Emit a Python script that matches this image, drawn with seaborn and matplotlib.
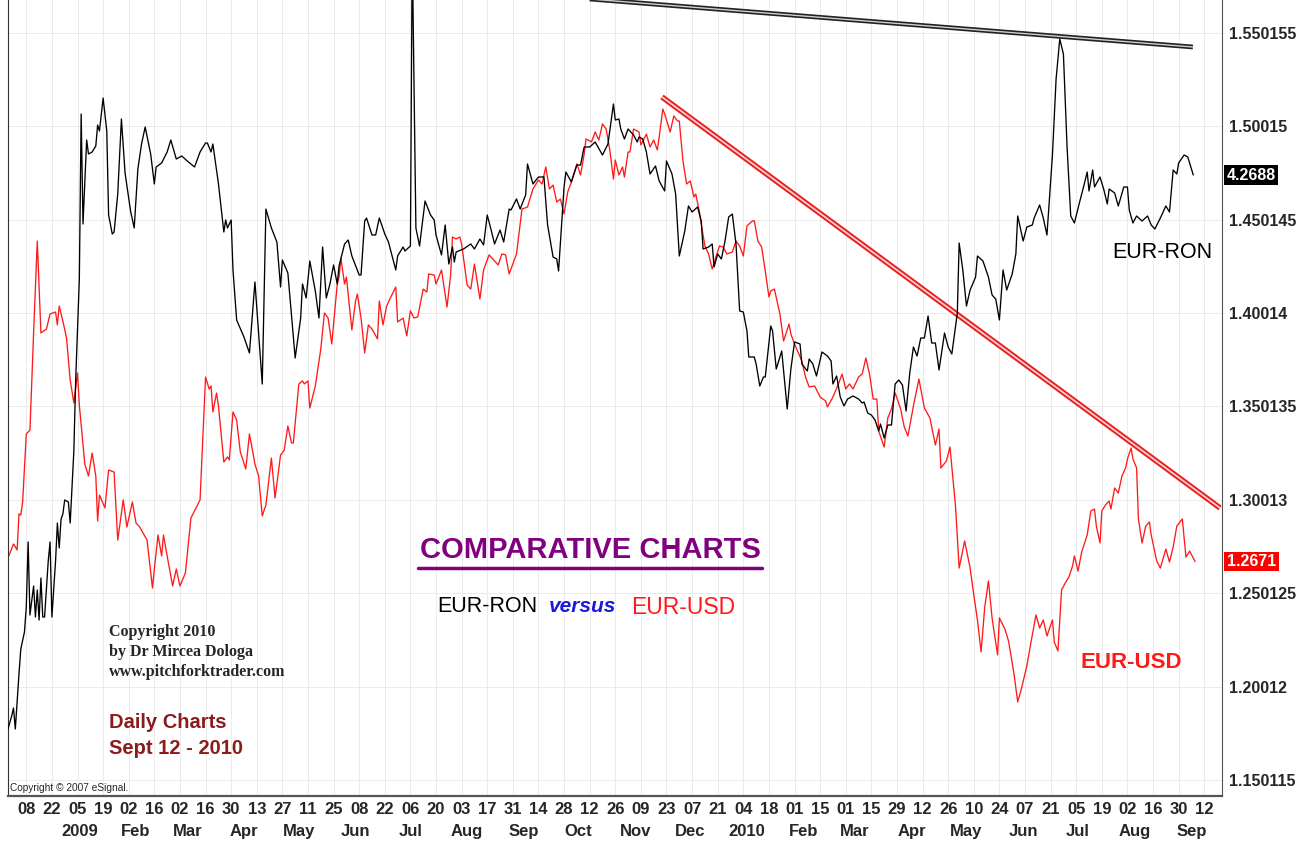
"""
EUR-RON versus EUR-USD, daily charts up to Sept 12 2010.
Recreated from an eSignal screenshot: both series overlaid on one panel,
EUR-USD on the price scale (right), EUR-RON on its own hidden scale.
"""

import matplotlib

matplotlib.use("Agg")  # no display
import matplotlib.dates as mdates  # noqa: E402
import matplotlib.pyplot as plt  # noqa: E402
import matplotlib.transforms as mtransforms  # noqa: E402
import pandas as pd  # noqa: E402
import seaborn as sns  # noqa: E402
from matplotlib.lines import Line2D  # noqa: E402

# --- data -----------------------------------------------------------------
BASE_DATE = pd.Timestamp("2008-11-28")  # day 0 of the series below

# EUR-USD close (days after BASE_DATE, value)
usd_day = [
    0, 3, 5, 6, 7, 8, 10, 12, 14, 16,
    18, 21, 23, 26, 27, 28, 30, 32, 34, 36,
    38, 39, 42, 44, 46, 48, 49, 50, 53, 55,
    58, 60, 63, 65, 68, 70, 72, 76, 79, 80,
    82, 84, 85, 87, 90, 92, 94, 97, 100, 105,
    108, 110, 111, 112, 114, 115, 118, 120, 121, 123,
    125, 127, 130, 132, 135, 137, 139, 141, 144, 146,
    149, 151, 153, 155, 156, 159, 161, 162, 164, 165,
    168, 171, 173, 175, 177, 180, 181, 182, 184, 185,
    188, 190, 191, 193, 195, 197, 199, 202, 203, 205,
    207, 209, 212, 213, 216, 218, 220, 222, 224, 227,
    229, 230, 233, 234, 237, 240, 242, 243, 245, 247,
    248, 251, 253, 255, 258, 260, 263, 265, 268, 270,
    272, 274, 276, 278, 281, 284, 287, 290, 292, 294,
    296, 298, 300, 302, 304, 306, 308, 311, 313, 315,
    316, 319, 321, 323, 325, 327, 329, 331, 332, 334,
    336, 337, 339, 340, 342, 345, 346, 349, 351, 353,
    355, 356, 358, 359, 362, 364, 366, 367, 369, 371,
    373, 375, 376, 378, 379, 381, 383, 385, 387, 389,
    391, 393, 396, 398, 400, 402, 404, 407, 408, 410,
    412, 414, 416, 417, 419, 422, 424, 427, 428, 430,
    434, 436, 438, 441, 444, 447, 448, 451, 454, 456,
    458, 460, 462, 465, 467, 469, 471, 473, 475, 476,
    479, 481, 483, 485, 488, 490, 492, 495, 498, 501,
    504, 507, 509, 510, 513, 515, 518, 520, 523, 526,
    528, 530, 532, 534, 536, 538, 541, 542, 545, 547,
    550, 552, 554, 557, 559, 562, 564, 566, 568, 571,
    572, 574, 576, 578, 580, 582, 583, 585, 587, 590,
    592, 594, 595, 597, 598, 600, 602, 603, 605, 607,
    609, 611, 612, 614, 615, 617, 618, 620, 622, 624,
    625, 628, 630, 633, 635, 637, 639, 642, 644, 646,
    649,
]
usd_val = [
    1.2690, 1.2765, 1.2733, 1.2926, 1.2920, 1.2990, 1.3354, 1.3375, 1.3895, 1.4387,
    1.3895, 1.3916, 1.3997, 1.4007, 1.3938, 1.4039, 1.3959, 1.3868, 1.3643, 1.3520,
    1.3681, 1.3509, 1.3193, 1.3129, 1.3252, 1.3129, 1.2888, 1.3027, 1.2958, 1.3161,
    1.3150, 1.2786, 1.3001, 1.2856, 1.2990, 1.2877, 1.2856, 1.2786, 1.2529, 1.2631,
    1.2813, 1.2701, 1.2813, 1.2701, 1.2540, 1.2631, 1.2540, 1.2610, 1.2904, 1.3001,
    1.3659, 1.3595, 1.3611, 1.3472, 1.3573, 1.3509, 1.3204, 1.3231, 1.3215, 1.3472,
    1.3429, 1.3258, 1.3167, 1.3354, 1.3193, 1.3129, 1.2915, 1.2974, 1.3225, 1.3011,
    1.3241, 1.3268, 1.3397, 1.3306, 1.3306, 1.3622, 1.3638, 1.3622, 1.3638, 1.3493,
    1.3611, 1.3809, 1.4002, 1.3975, 1.3836, 1.4157, 1.4195, 1.4296, 1.4157, 1.4195,
    1.3911, 1.4066, 1.4104, 1.3975, 1.3788, 1.3938, 1.3916, 1.3863, 1.4066, 1.3938,
    1.4039, 1.4082, 1.4141, 1.3954, 1.3975, 1.3879, 1.4013, 1.3975, 1.3981, 1.4130,
    1.4114, 1.4211, 1.4205, 1.4157, 1.4232, 1.4034, 1.4205, 1.4409, 1.4398, 1.4409,
    1.4371, 1.4152, 1.4130, 1.4264, 1.4077, 1.4232, 1.4313, 1.4291, 1.4259, 1.4318,
    1.4313, 1.4211, 1.4264, 1.4318, 1.4559, 1.4569, 1.4666, 1.4714, 1.4693, 1.4784,
    1.4666, 1.4687, 1.4596, 1.4612, 1.4532, 1.4650, 1.4703, 1.4800, 1.4741, 1.4853,
    1.4934, 1.4918, 1.4971, 1.4928, 1.5014, 1.4987, 1.4875, 1.4719, 1.4821, 1.4741,
    1.4784, 1.4730, 1.4864, 1.4864, 1.4987, 1.4971, 1.4902, 1.4960, 1.4891, 1.4928,
    1.4875, 1.4944, 1.5094, 1.5068, 1.4971, 1.5057, 1.5030, 1.5030, 1.4816, 1.4693,
    1.4709, 1.4623, 1.4639, 1.4543, 1.4478, 1.4361, 1.4318, 1.4237, 1.4302, 1.4361,
    1.4355, 1.4318, 1.4329, 1.4387, 1.4361, 1.4307, 1.4468, 1.4495, 1.4495, 1.4387,
    1.4355, 1.4227, 1.4088, 1.4120, 1.4130, 1.3997, 1.3852, 1.3943, 1.3889, 1.3836,
    1.3745, 1.3659, 1.3606, 1.3611, 1.3552, 1.3531, 1.3499, 1.3552, 1.3622, 1.3675,
    1.3595, 1.3622, 1.3595, 1.3659, 1.3675, 1.3761, 1.3675, 1.3541, 1.3541, 1.3370,
    1.3284, 1.3440, 1.3488, 1.3574, 1.3488, 1.3391, 1.3343, 1.3504, 1.3648, 1.3493,
    1.3440, 1.3295, 1.3381, 1.3172, 1.3209, 1.3284, 1.2968, 1.2636, 1.2781, 1.2636,
    1.2492, 1.2358, 1.2187, 1.2428, 1.2567, 1.2369, 1.2171, 1.2369, 1.2310, 1.2245,
    1.2069, 1.1919, 1.1988, 1.2112, 1.2224, 1.2385, 1.2315, 1.2358, 1.2272, 1.2358,
    1.2240, 1.2192, 1.2519, 1.2556, 1.2588, 1.2647, 1.2701, 1.2620, 1.2722, 1.2813,
    1.2942, 1.2952, 1.2861, 1.2770, 1.2942, 1.2974, 1.2995, 1.2952, 1.3065, 1.3038,
    1.3129, 1.3172, 1.3220, 1.3279, 1.3220, 1.3172, 1.2899, 1.2770, 1.2861, 1.2883,
    1.2813, 1.2674, 1.2636, 1.2738, 1.2668, 1.2749, 1.2861, 1.2899, 1.2695, 1.2727,
    1.2671,
]

# EUR-RON close (days after BASE_DATE, value); day 221 is the bad tick spike
ron_day = [
    0, 2, 3, 4, 6, 7, 9, 10, 11, 12,
    14, 15, 16, 17, 18, 19, 20, 22, 23, 24,
    26, 27, 28, 29, 30, 31, 33, 34, 36, 37,
    39, 40, 41, 43, 44, 46, 48, 49, 50, 52,
    54, 55, 57, 58, 60, 62, 64, 67, 69, 71,
    73, 75, 78, 80, 81, 84, 87, 89, 92, 95,
    98, 102, 105, 108, 109, 111, 112, 115, 118, 119,
    120, 122, 123, 125, 129, 132, 135, 139, 141, 144,
    147, 149, 150, 153, 157, 160, 161, 163, 165, 168,
    170, 172, 174, 176, 178, 180, 181, 184, 186, 188,
    192, 193, 195, 196, 199, 201, 203, 206, 208, 212,
    213, 216, 217, 220, 221, 223, 225, 228, 231, 233,
    234, 237, 239, 241, 243, 244, 245, 249, 253, 255,
    258, 260, 262, 264, 266, 269, 271, 274, 275, 278,
    280, 283, 284, 287, 290, 293, 295, 298, 300, 301,
    304, 305, 308, 311, 313, 315, 318, 321, 325, 328,
    331, 332, 334, 335, 337, 339, 342, 344, 345, 347,
    349, 351, 354, 356, 359, 360, 363, 365, 367, 370,
    372, 374, 377, 379, 380, 383, 385, 386, 388, 390,
    392, 394, 396, 398, 400, 402, 404, 405, 408, 409,
    411, 413, 414, 417, 418, 420, 423, 426, 428, 430,
    433, 434, 437, 438, 440, 442, 445, 448, 450, 451,
    453, 455, 457, 459, 462, 465, 467, 468, 470, 472,
    474, 476, 477, 479, 481, 483, 485, 487, 489, 491,
    493, 495, 497, 499, 501, 503, 505, 507, 509, 512,
    514, 516, 519, 520, 522, 524, 526, 529, 530, 533,
    536, 538, 540, 542, 544, 546, 549, 551, 552, 555,
    557, 560, 561, 564, 566, 568, 571, 573, 575, 577,
    579, 581, 583, 586, 588, 590, 591, 593, 594, 597,
    599, 601, 602, 605, 607, 610, 612, 613, 615, 617,
    620, 623, 625, 627, 630, 633, 635, 637, 639, 640,
    643, 645, 648,
]
ron_val = [
    3.8256, 3.8360, 3.8424, 3.8256, 3.8696, 3.8896, 3.9032, 3.9232, 3.9752, 3.9168,
    3.9400, 3.9152, 3.9368, 3.9128, 3.9464, 3.9152, 3.9152, 3.9600, 3.9752, 3.9152,
    3.9600, 3.9904, 3.9704, 3.9936, 3.9976, 4.0088, 4.0072, 3.9904, 4.0480, 4.1048,
    4.1856, 4.3176, 4.2296, 4.2968, 4.2856, 4.2872, 4.2920, 4.3088, 4.3040, 4.3304,
    4.3040, 4.2368, 4.2216, 4.2232, 4.2536, 4.3136, 4.2704, 4.2400, 4.2264, 4.2736,
    4.2936, 4.3072, 4.2856, 4.2616, 4.2752, 4.2784, 4.2872, 4.2968, 4.2816, 4.2840,
    4.2800, 4.2752, 4.2872, 4.2944, 4.2944, 4.2872, 4.2936, 4.2624, 4.2232, 4.2328,
    4.2264, 4.2328, 4.1928, 4.1528, 4.1392, 4.1264, 4.1832, 4.1016, 4.2416, 4.2264,
    4.2152, 4.1792, 4.2008, 4.1904, 4.1224, 4.1544, 4.1816, 4.1704, 4.2000, 4.1760,
    4.1544, 4.2112, 4.1704, 4.1816, 4.1968, 4.1816, 4.1960, 4.2136, 4.2168, 4.2040,
    4.1888, 4.1888, 4.2320, 4.2344, 4.2208, 4.2208, 4.2344, 4.2216, 4.2152, 4.1928,
    4.2040, 4.2112, 4.2080, 4.2120, 4.4500, 4.2264, 4.2120, 4.2480, 4.2368, 4.2328,
    4.2208, 4.2048, 4.2288, 4.1976, 4.2112, 4.1992, 4.2072, 4.2096, 4.2136, 4.2096,
    4.2176, 4.2128, 4.2368, 4.2256, 4.2136, 4.2248, 4.2152, 4.2416, 4.2408, 4.2496,
    4.2416, 4.2528, 4.2776, 4.2616, 4.2672, 4.2672, 4.2288, 4.2032, 4.2016, 4.1920,
    4.2592, 4.2712, 4.2632, 4.2768, 4.2768, 4.2912, 4.2912, 4.2952, 4.2848, 4.2936,
    4.3256, 4.3128, 4.3136, 4.3056, 4.2976, 4.3056, 4.3008, 4.2952, 4.2992, 4.2976,
    4.2872, 4.2696, 4.2760, 4.2640, 4.2560, 4.2800, 4.2696, 4.2536, 4.2040, 4.2240,
    4.2440, 4.2392, 4.2432, 4.2320, 4.2096, 4.2112, 4.2136, 4.1952, 4.2056, 4.2016,
    4.2160, 4.2352, 4.2376, 4.2136, 4.1600, 4.1592, 4.1440, 4.1232, 4.1232, 4.1176,
    4.1000, 4.1072, 4.1072, 4.1480, 4.1440, 4.1136, 4.1280, 4.0816, 4.1136, 4.1352,
    4.1336, 4.1176, 4.1120, 4.1216, 4.1176, 4.1080, 4.1272, 4.1240, 4.1200, 4.1016,
    4.1080, 4.0912, 4.0840, 4.0896, 4.0920, 4.0896, 4.0864, 4.0872, 4.0784, 4.0768,
    4.0728, 4.0640, 4.0696, 4.0584, 4.0688, 4.0688, 4.1016, 4.1048, 4.1008, 4.0800,
    4.1104, 4.1312, 4.1240, 4.1384, 4.1384, 4.1560, 4.1344, 4.1344, 4.1128, 4.1424,
    4.1312, 4.1256, 4.1584, 4.2144, 4.1928, 4.1640, 4.1768, 4.1872, 4.2040, 4.2000,
    4.1872, 4.1728, 4.1696, 4.1528, 4.1928, 4.1768, 4.1896, 4.2056, 4.2360, 4.2160,
    4.2272, 4.2288, 4.2344, 4.2448, 4.2344, 4.2208, 4.2848, 4.3456, 4.3776, 4.3656,
    4.2912, 4.2360, 4.2304, 4.2480, 4.2592, 4.2712, 4.2560, 4.2728, 4.2592, 4.2672,
    4.2576, 4.2456, 4.2576, 4.2544, 4.2440, 4.2592, 4.2592, 4.2408, 4.2304, 4.2360,
    4.2320, 4.2360, 4.2288, 4.2256, 4.2344, 4.2440, 4.2392, 4.2728, 4.2696, 4.2784,
    4.2848, 4.2832, 4.2688,
]

# hand drawn trend lines (two end points each)
usd_trend_day = [357.5, 662.6]
usd_trend_val = [1.5159, 1.2958]
ron_trend_day = [318.0, 647.8]
ron_trend_val = [4.4096, 4.3712]

# axis labelling as printed by eSignal
price_ticks = [1.150115, 1.20012, 1.250125, 1.30013, 1.350135,
               1.40014, 1.450145, 1.50015, 1.550155]
day_tick_labels = ["08", "22", "05", "19", "02", "16", "02", "16", "30", "13",
                   "27", "11", "25", "08", "22", "06", "20", "03", "17", "31",
                   "14", "28", "12", "26", "09", "23", "07", "21", "04", "18",
                   "01", "15", "01", "15", "29", "12", "26", "10", "24", "07",
                   "21", "05", "19", "02", "16", "30", "12"]
month_labels = ["2009", "Feb", "Mar", "Apr", "May", "Jun", "Jul", "Aug", "Sep",
                "Oct", "Nov", "Dec", "2010", "Feb", "Mar", "Apr", "May", "Jun",
                "Jul", "Aug", "Sep"]

USD_RED = "#ff1a1a"
PURPLE = "#800080"
DARK_RED = "#8b1c1c"


def main():
    sns.set_style("white")
    plt.rcParams["font.family"] = ["Liberation Sans", "DejaVu Sans"]

    usd = pd.DataFrame({"date": BASE_DATE + pd.to_timedelta(usd_day, unit="D"),
                        "EUR-USD": usd_val})
    ron = pd.DataFrame({"date": BASE_DATE + pd.to_timedelta(ron_day, unit="D"),
                        "EUR-RON": ron_val})

    W, H = 1313, 841
    fig = plt.figure(figsize=(W / 100, H / 100), dpi=100)
    fig.patch.set_facecolor("white")
    ax = fig.add_axes([8 / W, 1 - 796 / H, 1214 / W, 796 / H])
    ax2 = ax.twinx()

    sns.lineplot(data=usd, x="date", y="EUR-USD", ax=ax, color=USD_RED,
                 lw=0.95, estimator=None, sort=False)
    sns.lineplot(data=ron, x="date", y="EUR-RON", ax=ax2, color="black",
                 lw=0.95, estimator=None, sort=False)

    # trend lines: drawn as double lines like in eSignal
    utd = BASE_DATE + pd.to_timedelta(usd_trend_day, unit="D")
    ax.plot(utd, usd_trend_val, color="#e82020", lw=4.0, solid_capstyle="butt")
    ax.plot(utd, usd_trend_val, color="#ffd6d6", lw=1.2, solid_capstyle="butt")
    rtd = BASE_DATE + pd.to_timedelta(ron_trend_day, unit="D")
    ax2.plot(rtd, ron_trend_val, color="#222222", lw=3.4, solid_capstyle="butt")
    ax2.plot(rtd, ron_trend_val, color="#cfcfcf", lw=1.0, solid_capstyle="butt")

    ax.set_xlim(BASE_DATE, BASE_DATE + pd.Timedelta(days=663.7))
    ax.set_ylim(1.14154, 1.5678)
    ax2.set_ylim(3.7720, 4.4088)

    # price scale on the right
    ax.yaxis.tick_right()
    ax.set_yticks(price_ticks)
    ax.set_yticklabels([str(t) for t in price_ticks], fontsize=11.5,
                       fontweight="bold")
    ax2.set_yticks([])
    for a in (ax, ax2):
        a.set_xlabel("")
        a.set_ylabel("")

    tick_dates = pd.date_range("2008-12-08", periods=len(day_tick_labels),
                               freq="14D")
    ax.set_xticks(tick_dates)
    ax.set_xticklabels(day_tick_labels, fontsize=12, fontweight="bold")
    ax.tick_params(axis="x", length=0, pad=4)
    ax.tick_params(axis="y", length=0, pad=5)

    month_dates = pd.date_range("2009-01-01", periods=len(month_labels), freq="MS")
    for d, lab in zip(month_dates, month_labels):
        ax.text(mdates.date2num(d + pd.Timedelta(days=5)), -0.044, lab,
                transform=ax.get_xaxis_transform(), ha="center", va="center",
                fontsize=12, fontweight="bold")

    ax.grid(True, color="#ebebeb", lw=0.7)
    ax.set_axisbelow(True)
    for s in ax2.spines.values():
        s.set_visible(False)
    ax.spines["top"].set_visible(False)
    ax.spines["left"].set_color("#333333")
    ax.spines["right"].set_color("#555555")
    ax.spines["bottom"].set_color("#555555")
    ax.spines["bottom"].set_linewidth(1.6)

    # last price boxes
    tr_usd = mtransforms.blended_transform_factory(ax.transAxes, ax.transData)
    ax.text(1.004, usd_val[-1], f"{usd_val[-1]:.4f}", transform=tr_usd,
            color="white", fontsize=11.5, fontweight="bold", ha="left",
            va="center", clip_on=False,
            bbox=dict(boxstyle="square,pad=0.15", fc="#ff0000", ec="none"))
    tr_ron = mtransforms.blended_transform_factory(ax2.transAxes, ax2.transData)
    ax2.text(1.004, ron_val[-1], f"{ron_val[-1]:.4f}", transform=tr_ron,
             color="white", fontsize=11.5, fontweight="bold", ha="left",
             va="center", clip_on=False,
             bbox=dict(boxstyle="square,pad=0.15", fc="black", ec="none"))

    # annotations
    def fx(px):
        return px / W

    def fy(py):
        return 1 - py / H

    fig.text(fx(590), fy(550), "COMPARATIVE CHARTS", color=PURPLE,
             fontsize=21, fontweight="bold", ha="center", va="center")
    fig.add_artist(Line2D([fx(418), fx(762)], [fy(568), fy(568)], color=PURPLE,
                          lw=2.5, transform=fig.transFigure))
    fig.text(fx(437), fy(607), "EUR-RON", color="black", fontsize=15.5,
             ha="left", va="center")
    fig.text(fx(549), fy(607), "versus", color="#1a1adc", fontsize=15,
             fontweight="bold", style="italic", ha="left", va="center")
    fig.text(fx(631), fy(607), "EUR-USD", color=USD_RED, fontsize=16.5,
             ha="left", va="center")

    for py, line in zip((632, 652, 672), ("Copyright 2010", "by Dr Mircea Dologa",
                                           "www.pitchforktrader.com")):
        fig.text(fx(109), fy(py), line, family=["Liberation Serif", "DejaVu Serif"],
                 fontsize=11.5, fontweight="bold", ha="left", va="center")
    fig.text(fx(109), fy(722), "Daily Charts", color=DARK_RED, fontsize=14.5,
             fontweight="bold", ha="left", va="center")
    fig.text(fx(109), fy(748), "Sept 12 - 2010", color=DARK_RED, fontsize=14.5,
             fontweight="bold", ha="left", va="center")

    fig.text(fx(1112), fy(252), "EUR-RON", color="black", fontsize=15.5,
             ha="left", va="center")
    fig.text(fx(1080), fy(662), "EUR-USD", color=USD_RED, fontsize=16,
             fontweight="bold", ha="left", va="center")
    fig.text(fx(10), fy(788), "Copyright \u00a9 2007 eSignal.", fontsize=7.3,
             ha="left", va="center")

    fig.savefig("out.png", dpi=100)
    plt.close(fig)


if __name__ == "__main__":
    main()
